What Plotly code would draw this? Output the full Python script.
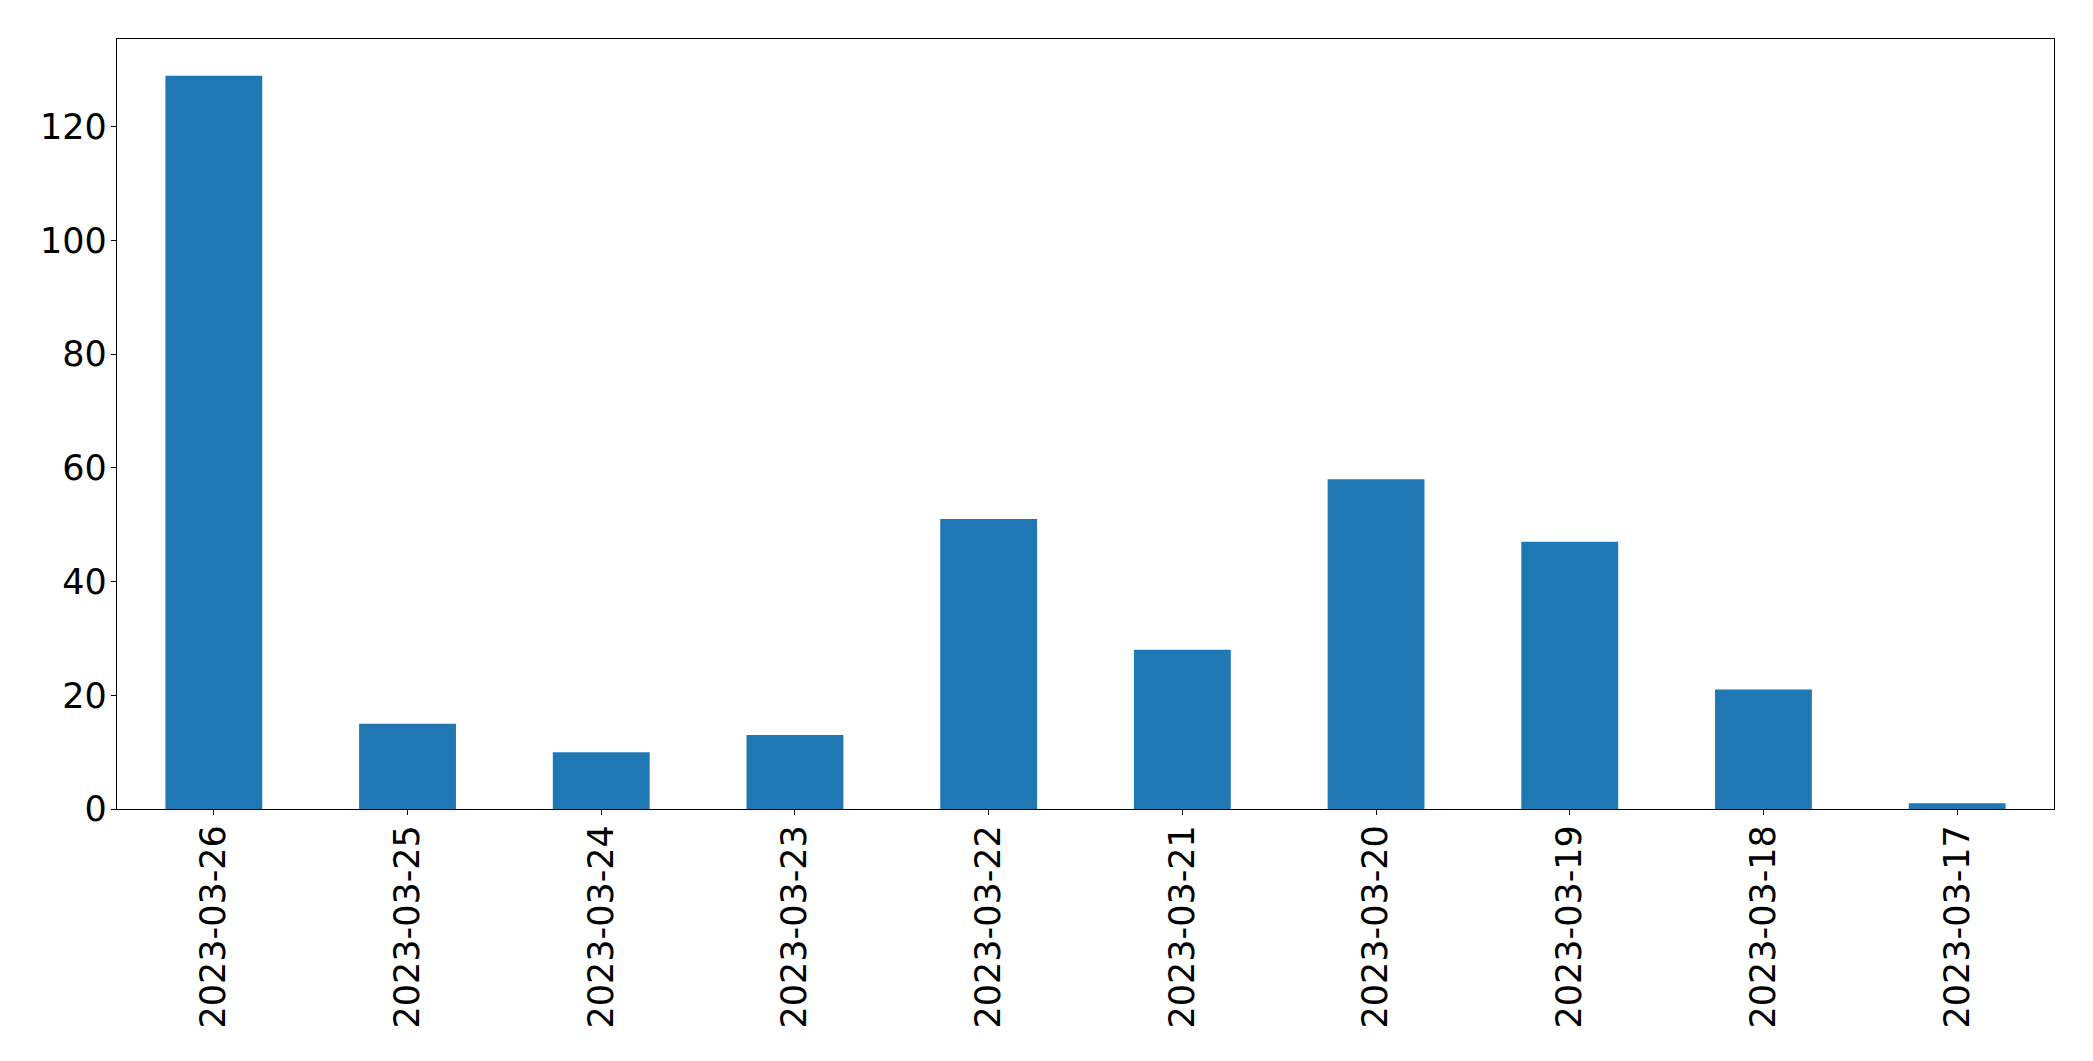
import plotly.graph_objects as go

dates = ["2023-03-26", "2023-03-25", "2023-03-24", "2023-03-23", "2023-03-22",
         "2023-03-21", "2023-03-20", "2023-03-19", "2023-03-18", "2023-03-17"]
counts = [129, 15, 10, 13, 51, 28, 58, 47, 21, 1]
y_ticks = [0, 20, 40, 60, 80, 100, 120]

fig = go.Figure(go.Bar(x=dates, y=counts, marker=dict(color="#1f77b4", line=dict(width=0)), width=0.5))

font = dict(family="DejaVu Sans", size=35, color="black")
fig.update_layout(
    width=2085, height=1053,
    margin=dict(l=109, r=39, t=31, b=252, autoexpand=False),
    paper_bgcolor="white", plot_bgcolor="white",
    showlegend=False,
    font=font,
)
fig.update_xaxes(
    type="category", range=[-0.5, len(dates) - 0.5],
    tickangle=-90, tickfont=font, ticklabelstandoff=-4,
    showline=True, linecolor="black", linewidth=1.3, mirror=True,
    ticks="outside", ticklen=5, tickwidth=1.3, tickcolor="black",
    showgrid=False, zeroline=False,
)
fig.update_yaxes(
    range=[0, max(counts) * 1.05], tickvals=y_ticks, tickfont=font, ticklabelstandoff=-3,
    showline=True, linecolor="black", linewidth=1.3, mirror=True,
    ticks="outside", ticklen=5, tickwidth=1.3, tickcolor="black",
    showgrid=False, zeroline=False,
)
fig.write_html("out.html")
